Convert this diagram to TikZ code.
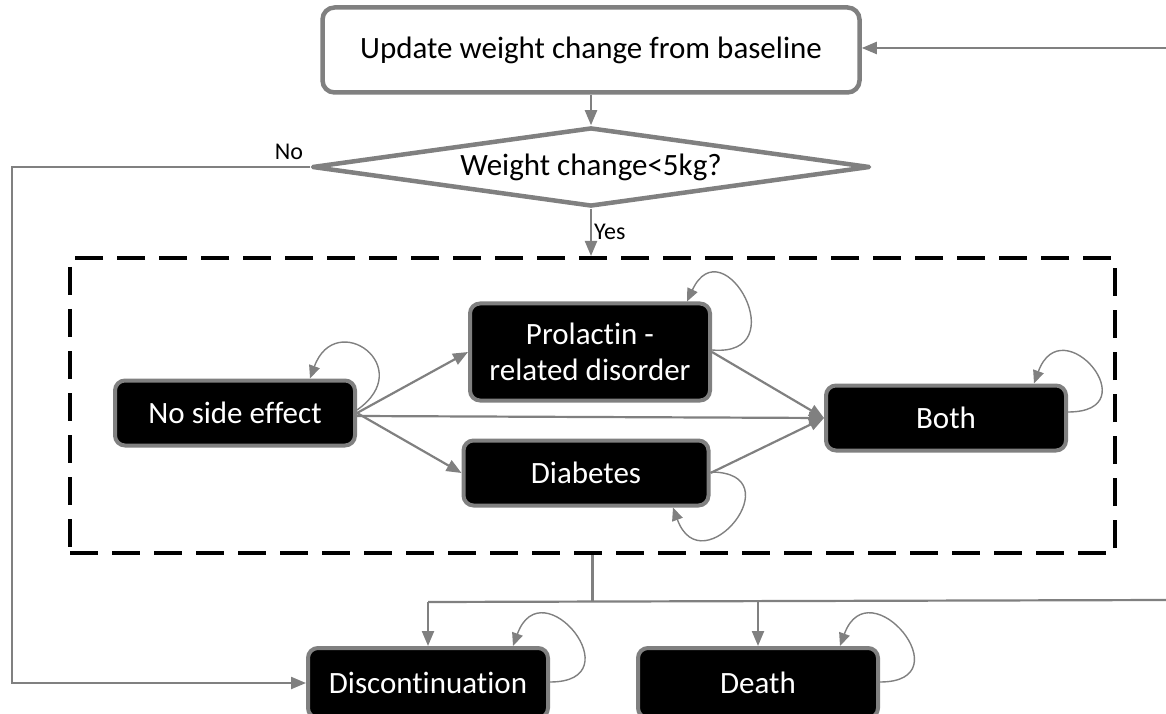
\documentclass[tikz,border=0pt]{standalone}
\usepackage{fontspec}
\setmainfont[Ligatures=NoCommon]{Carlito}
\usetikzlibrary{arrows.meta,calc,shapes.geometric}
\definecolor{edgegray}{RGB}{128,128,128}

\begin{document}
\begin{tikzpicture}[->,>={Triangle[length=15pt,width=12pt]},x=1pt,y=1pt,line width=2.2pt,
  every edge/.style={draw=edgegray},
  link/.style={draw=edgegray,line width=2.2pt},
  loop edge/.style={line width=1.4pt,distance=82pt,>={Triangle[length=13pt,width=11pt]}},
  state node/.style={rectangle,rounded corners=10pt,fill=black,draw=edgegray,line width=4pt,
    text=white,align=center,font=\fontsize{31}{36}\selectfont,minimum width=240pt,minimum height=65pt},
  top node/.style={rectangle,rounded corners=12pt,fill=white,draw=edgegray,line width=4.5pt,
    font=\fontsize{31}{36}\selectfont,minimum width=537pt,minimum height=85pt},
  check node/.style={diamond,aspect=7,inner sep=0pt,fill=white,draw=edgegray,line width=4.5pt,
    line join=round,font=\fontsize{31}{36}\selectfont,minimum width=558pt,minimum height=79pt},
  group box/.style={rectangle,draw=black,line width=4pt,dash pattern=on 28pt off 14pt,
    minimum width=1045pt,minimum height=295pt},
  small label/.style={font=\fontsize{24}{26}\selectfont,inner sep=2pt}]

\useasboundingbox (0,0) rectangle (1166,713);

% main boxes
\node[top node] (upd) at (591,663) {Update weight change from baseline};
\node[check node] (chk) at (591,546) {Weight change<5kg?};
\node[group box] (grp) at (592.5,307.5) {};

% states
\node[state node] (none) at (235,300) {No side effect};
\node[state node,minimum height=97pt] (prl) at (590,361) {Prolactin -\\related disorder};
\node[state node,minimum width=245pt] (dia) at (586,240) {Diabetes};
\node[state node] (both) at (946,295) {Both};
\node[state node,minimum height=70pt] (disc) at (428,30) {Discontinuation};
\node[state node,minimum height=70pt] (death) at (758,30) {Death};

\coordinate (back) at (1166,665);
\coordinate (noturn) at (12,546);
\coordinate (split) at ($(grp.south)+(0,-47)$);
\coordinate (out) at (1166,113);

\path
(back) edge (upd.east |- back)
(upd.south) edge (chk.north)
(chk.south) edge node[right,small label] (yes) {Yes} (chk.south |- grp.north);

\node[small label] (no) at (289,561) {No};
\draw[link] (chk.west) -- (noturn) |- (disc.west);

% transitions
\path
(none.east) edge (prl.west)
(none.east) edge (dia.west)
([yshift=-3pt]none.east) edge (both.west)
(prl.east) edge (both.west)
(dia.east) edge (both.west);

% staying in a state
\path
([yshift=3pt]none.east) edge[loop edge,out=35,in=70,distance=75pt] ([xshift=75pt]none.north)
([yshift=2pt]prl.east) edge[loop edge,out=-5,in=65,distance=85pt] ([xshift=97pt]prl.north)
([yshift=6pt]both.east) edge[loop edge,out=0,in=70] ([xshift=88pt]both.north)
([yshift=1pt]dia.east) edge[loop edge,out=0,in=-70,distance=85pt] ([xshift=87pt]dia.south)
([yshift=1pt]disc.east) edge[loop edge,out=0,in=70,distance=85pt] ([xshift=85pt]disc.north)
([yshift=1pt]death.east) edge[loop edge,out=0,in=70,distance=85pt] ([xshift=82pt]death.north);

% leaving the side effect states
\draw[link,-] (grp.south) -- (split);
\draw[link,-] (disc.north |- split) -- (out);
\path
(disc.north |- split) edge (disc.north)
(death.north |- split) edge (death.north);
\end{tikzpicture}
\end{document}
